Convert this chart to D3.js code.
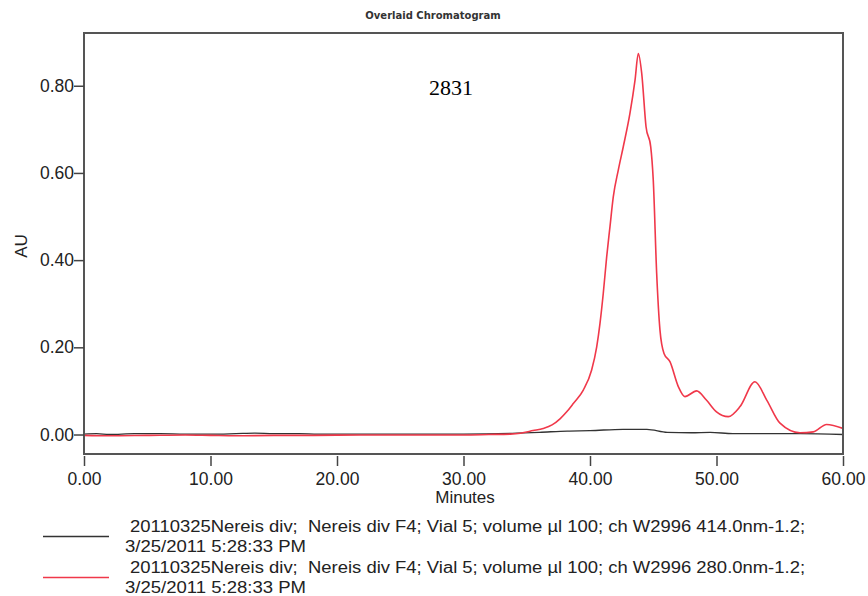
<!DOCTYPE html>
<html>
<head>
<meta charset="utf-8">
<script src="https://cdn.jsdelivr.net/npm/d3@7"></script>
<style>
    html, body { margin: 0; padding: 0; background: #fff; }
    svg { display: block; }
    text { font-family: "Liberation Sans", Arial, sans-serif; fill: #222; }
</style>
</head>
<body>
<div id="chart"></div>
<script>
// retention time (min) / absorbance (AU)
var ch280Time = [0, 2, 5, 8, 10, 12, 15, 18, 22, 26, 30, 32, 33.7, 34.5, 35.5, 36.3, 37.0, 37.63,
    38.16, 38.68, 39.47, 40.13, 40.53, 40.79, 41.05, 41.32, 41.58, 41.84, 42.24, 42.63, 43.16,
    43.56, 43.82, 44.09, 44.43, 44.8, 45.0, 45.27, 45.53, 45.85, 46.32, 46.98, 47.5, 48.43, 49.2,
    50.0, 50.93, 51.86, 53.04, 53.97, 55.02, 56.6, 57.65, 58.7, 60];
var ch280Au = [-0.002, -0.003, -0.002, -0.001, -0.002, -0.003, -0.002, -0.002, -0.001, -0.001, -0.001, 0.0, 0.001, 0.003, 0.009, 0.014, 0.022, 0.036,
    0.052, 0.071, 0.102, 0.148, 0.201, 0.255, 0.324, 0.408, 0.477, 0.545, 0.607, 0.660, 0.737,
    0.813, 0.874, 0.828, 0.706, 0.660, 0.584, 0.370, 0.240, 0.186, 0.167, 0.110, 0.087, 0.10, 0.079,
    0.052, 0.041, 0.064, 0.121, 0.079, 0.026, 0.004, 0.006, 0.023, 0.014];

var ch414Time = [0, 1, 2, 4, 6, 8, 10, 12, 13.5, 15, 17, 18.5, 20, 25, 30, 34.2, 36, 38.2, 40,
    42.6, 44.5, 46.1, 48, 49.5, 51.3, 56.6, 60];
var ch414Au = [0.001, 0.002, 0.0, 0.002, 0.002, 0.001, 0.001, 0.002, 0.003, 0.002, 0.002, 0.001, 0.001, 0.001, 0.001, 0.003, 0.005, 0.008, 0.009,
    0.012, 0.012, 0.005, 0.004, 0.005, 0.002, 0.002, 0.0];

var xTicks = [0, 10, 20, 30, 40, 50, 60];
var yTicks = [0, 0.2, 0.4, 0.6, 0.8];

var legendItems = [
    {color: "#333333",
        lines: ["20110325Nereis div;  Nereis div F4; Vial 5; volume µl 100; ch W2996 414.0nm-1.2;", "3/25/2011 5:28:33 PM"]},
    {color: "#f0384a",
        lines: ["20110325Nereis div;  Nereis div F4; Vial 5; volume µl 100; ch W2996 280.0nm-1.2;", "3/25/2011 5:28:33 PM"]}
];

var width = 868, height = 596;
var box = {left: 84, top: 33, right: 843, bottom: 454};

var svg = d3.select("#chart").append("svg")
    .attr("width", width)
    .attr("height", height);

var x = d3.scaleLinear().domain([0, 60]).range([box.left, box.right]);
var y = d3.scaleLinear().domain([-0.0447, 0.921]).range([box.bottom, box.top]);

// titulo
svg.append("text")
    .attr("x", 433).attr("y", 19)
    .attr("text-anchor", "middle")
    .style("font-family", "'DejaVu Sans', Verdana, sans-serif")
    .style("font-weight", "bold")
    .style("font-size", "10px")
    .style("fill", "#333")
    .text("Overlaid Chromatogram");

// traces, clipped to the plot box
svg.append("clipPath").attr("id", "plotClip")
    .append("rect")
    .attr("x", box.left).attr("y", box.top)
    .attr("width", box.right - box.left).attr("height", box.bottom - box.top);

var line = d3.line()
    .x(d => x(d[0]))
    .y(d => y(d[1]))
    .curve(d3.curveMonotoneX);

var traces = svg.append("g").attr("clip-path", "url(#plotClip)");

traces.append("path")
    .datum(d3.zip(ch414Time, ch414Au))
    .attr("d", line)
    .attr("fill", "none")
    .attr("stroke", legendItems[0].color)
    .attr("stroke-width", 1.3);

traces.append("path")
    .datum(d3.zip(ch280Time, ch280Au))
    .attr("d", line)
    .attr("fill", "none")
    .attr("stroke", legendItems[1].color)
    .attr("stroke-width", 1.6);

// frame
svg.append("rect")
    .attr("x", box.left).attr("y", box.top)
    .attr("width", box.right - box.left).attr("height", box.bottom - box.top)
    .attr("fill", "none")
    .attr("stroke", "#555")
    .attr("stroke-width", 2);

// x axis: major every 10 min, minor every 2
var xAxisG = svg.append("g").attr("transform", `translate(0, ${box.bottom + 2})`);
xAxisG.call(d3.axisBottom(x).tickValues(d3.range(0, 61, 2)).tickSize(5).tickFormat(""));
xAxisG.call(d3.axisBottom(x).tickValues(xTicks).tickSize(10).tickFormat(d3.format(".2f")));
xAxisG.selectAll(".domain").remove();
xAxisG.selectAll("line").attr("stroke", "#444").attr("stroke-width", 1.5);
xAxisG.selectAll("text")
    .attr("y", 17)
    .style("font-size", "17.5px")
    .style("fill", "#222");

// y axis: major every 0.20, minor every 0.05
var yAxisG = svg.append("g").attr("transform", `translate(${box.left}, 0)`);
yAxisG.call(d3.axisLeft(y).tickValues(d3.range(0.05, 0.91, 0.05)).tickSize(4).tickFormat(""));
yAxisG.call(d3.axisLeft(y).tickValues(yTicks).tickSize(10).tickFormat(d3.format(".2f")));
yAxisG.selectAll(".domain").remove();
yAxisG.selectAll("line").attr("stroke", "#444").attr("stroke-width", 1.5);
yAxisG.selectAll("text")
    .attr("x", -10)
    .style("font-size", "17.5px")
    .style("fill", "#222");

// axis titles
svg.append("text")
    .attr("x", 465).attr("y", 503)
    .attr("text-anchor", "middle")
    .style("font-size", "17px")
    .text("Minutes");

svg.append("text")
    .attr("transform", "translate(27, 246) rotate(-90)")
    .attr("text-anchor", "middle")
    .style("font-size", "17px")
    .text("AU");

// sample number annotation
svg.append("text")
    .attr("x", 451).attr("y", 95)
    .attr("text-anchor", "middle")
    .style("font-family", "'Liberation Serif', 'Times New Roman', serif")
    .style("font-size", "22px")
    .style("fill", "#000")
    .text("2831");

// legend
var legend = svg.append("g");
legendItems.forEach((item, i) => {
    var top = 532 + i * 41;
    legend.append("line")
        .attr("x1", 43).attr("x2", 109)
        .attr("y1", top + 4.5).attr("y2", top + 4.5)
        .attr("stroke", item.color)
        .attr("stroke-width", 1.6);
    legend.append("text")
        .attr("x", 130).attr("y", top)
        .attr("textLength", 675).attr("lengthAdjust", "spacingAndGlyphs")
        .style("font-size", "16px")
        .style("white-space", "pre")
        .text(item.lines[0]);
    legend.append("text")
        .attr("x", 125).attr("y", top + 20)
        .attr("textLength", 181).attr("lengthAdjust", "spacingAndGlyphs")
        .style("font-size", "16px")
        .text(item.lines[1]);
});
</script>
</body>
</html>
